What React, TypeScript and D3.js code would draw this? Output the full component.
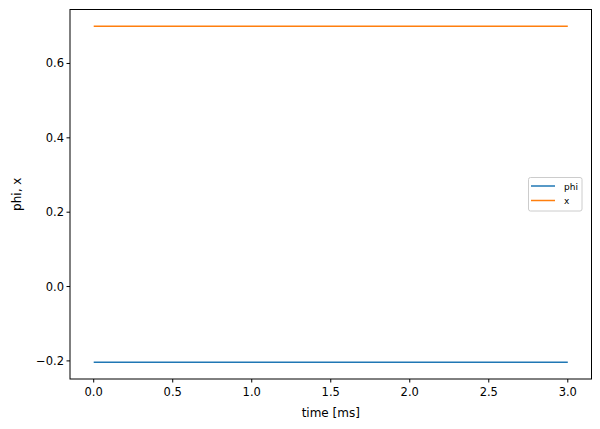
import React from "react";
import * as d3 from "d3";

const times = [0, 3];
const phiValues = [-0.2035, -0.2035];
const xValues = [0.7, 0.7];
const xTicks = [0, 0.5, 1, 1.5, 2, 2.5, 3];
const yTicks = [-0.2, 0, 0.2, 0.4, 0.6];
const seriesNames = ["phi", "x"];
const colors = ["#1f77b4", "#ff7f0e"];

export default function App() {
  const W = 600, H = 429;
  const left = 70, right = 591.5, top = 9.5, bottom = 379;
  const x = d3.scaleLinear().domain([-0.15, 3.15]).range([left, right]);
  const y = d3.scaleLinear().domain([-0.2487, 0.7452]).range([bottom, top]);
  const line = d3.line<[number, number]>().x(d => x(d[0])).y(d => y(d[1]));
  const series = [phiValues, xValues];
  const fmt = (v: number) => v.toFixed(1).replace("-", "\u2212");
  const font = "DejaVu Sans, sans-serif";
  return (
    <svg width={W} height={H} style={{ position: "absolute", left: 0, top: 0, background: "#fff" }} fontFamily={font}>
      {series.map((s, i) => (
        <path key={i} d={line(times.map((t, j) => [t, s[j]] as [number, number])) || ""} fill="none" stroke={colors[i]} strokeWidth={1.5} />
      ))}
      <rect x={left} y={top} width={right - left} height={bottom - top} fill="none" stroke="#000" strokeWidth={1} />
      {xTicks.map(t => (
        <g key={t}>
          <line x1={x(t)} x2={x(t)} y1={bottom} y2={bottom + 3.5} stroke="#000" />
          <text x={x(t)} y={bottom + 17} textAnchor="middle" fontSize={11.5}>{fmt(t)}</text>
        </g>
      ))}
      {yTicks.map(t => (
        <g key={t}>
          <line x1={left - 3.5} x2={left} y1={y(t)} y2={y(t)} stroke="#000" />
          <text x={left - 6} y={y(t) + 4} textAnchor="end" fontSize={11.5}>{fmt(t)}</text>
        </g>
      ))}
      <text x={(left + right) / 2} y={417} textAnchor="middle" fontSize={12}>time [ms]</text>
      <text transform={`translate(20.5,${(top + bottom) / 2}) rotate(-90)`} textAnchor="middle" fontSize={12}>phi, x</text>
      <g>
        <rect x={528.5} y={177.5} width={53.5} height={33.5} rx={2} fill="#fff" stroke="#ccc" strokeWidth={1} />
        {seriesNames.map((n, i) => (
          <g key={n}>
            <line x1={531} x2={555} y1={186 + i * 14.5} y2={186 + i * 14.5} stroke={colors[i]} strokeWidth={1.5} />
            <text x={564} y={189.5 + i * 14.5} fontSize={9}>{n}</text>
          </g>
        ))}
      </g>
    </svg>
  );
}
